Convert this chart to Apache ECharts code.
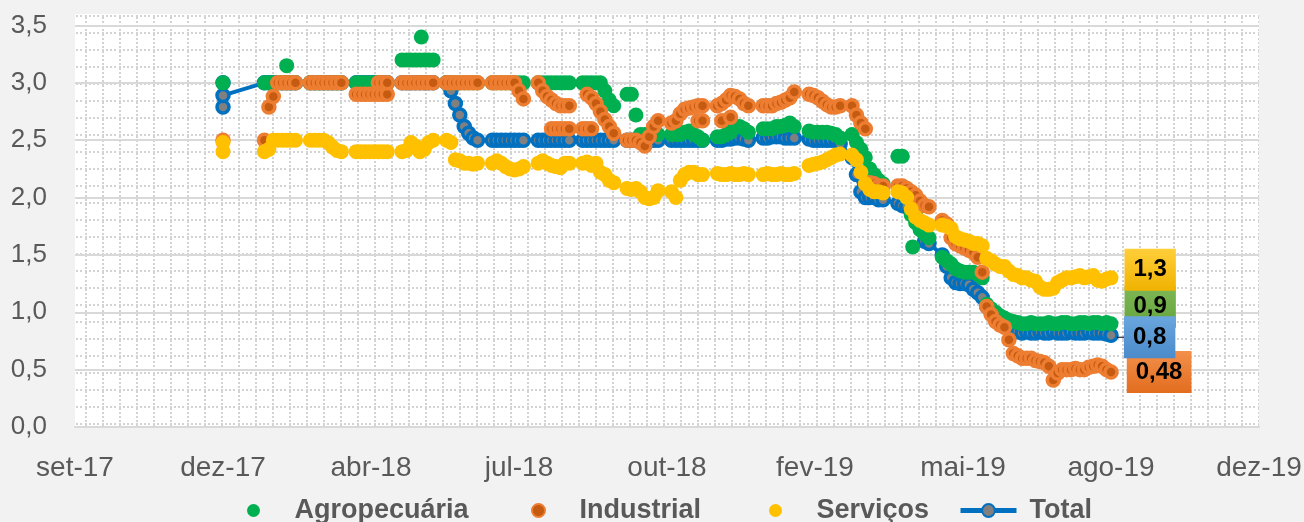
<!DOCTYPE html>
<html>
<head>
<meta charset="utf-8">
<script src="https://cdn.jsdelivr.net/npm/echarts@6/dist/echarts.min.js"></script>
<style>
  html, body { margin: 0; padding: 0; background: #f2f2f2; }
  #grafico { width: 1304px; height: 522px; }
</style>
</head>
<body>
<div id="grafico"></div>
<script>
// datas em número de série do Excel (43101 = 01/01/2018)
const dias = [
  43100,
  43128, 43131, 43134, 43137, 43140, 43143, 43146, 43149,
  43159, 43162, 43165, 43168, 43171, 43174, 43177, 43180,
  43190, 43193, 43196, 43199, 43202, 43205, 43208, 43211,
  43221, 43224, 43227, 43230, 43233, 43236, 43239, 43242,
  43251, 43254, 43257, 43260, 43263, 43266, 43269, 43272,
  43282, 43285, 43288, 43291, 43294, 43297, 43300, 43303,
  43313, 43316, 43319, 43322, 43325, 43328, 43331, 43334,
  43343, 43346, 43349, 43352, 43355, 43358, 43361, 43364,
  43373, 43376, 43379, 43382, 43385, 43388, 43391, 43394,
  43403, 43406, 43409, 43412, 43415, 43418, 43421, 43424,
  43434, 43437, 43440, 43443, 43446, 43449, 43452, 43455,
  43465, 43468, 43471, 43474, 43477, 43480, 43483, 43486,
  43496, 43499, 43502, 43505, 43508, 43511, 43514, 43517,
  43525, 43528, 43531, 43534, 43537, 43540, 43543, 43546,
  43556, 43559, 43562, 43565, 43568, 43571, 43574, 43577,
  43586, 43589, 43592, 43595, 43598, 43601, 43604, 43607,
  43610, 43613, 43616, 43619, 43622, 43625, 43628, 43631,
  43634, 43637, 43640, 43643, 43646, 43649, 43652, 43655,
  43658, 43661, 43664, 43667, 43670, 43673, 43676, 43679,
  43682, 43685, 43688, 43691, 43694, 43697, 43700
];

const agro = [
  3.0,
  3.0, 3.0, 3.0, 3.0, 3.0, 3.0, 3.0, 3.0,
  3.0, 3.0, 3.0, 3.0, 3.0, 3.0, 3.0, 3.0,
  3.0, 3.0, 3.0, 3.0, 3.0, 3.0, 3.0, 3.0,
  3.2, 3.2, 3.2, 3.2, 3.2, 3.2, 3.2, 3.2,
  3.0, 3.0, 3.0, 3.0, 3.0, 3.0, 3.0, 3.0,
  3.0, 3.0, 3.0, 3.0, 3.0, 3.0, 3.0, 3.0,
  3.0, 3.0, 3.0, 3.0, 3.0, 3.0, 3.0, 3.0,
  3.0, 3.0, 3.0, 3.0, 3.0, 2.93, 2.85, 2.8,
  2.9, 2.9, 2.72, 2.55, 2.55, 2.55, 2.55, 2.55,
  2.55, 2.55, 2.55, 2.57, 2.58, 2.55, 2.53, 2.5,
  2.53, 2.53, 2.55, 2.57, 2.62, 2.62, 2.6, 2.57,
  2.6, 2.6, 2.6, 2.62, 2.62, 2.63, 2.65, 2.62,
  2.58, 2.57, 2.57, 2.57, 2.57, 2.56, 2.55, 2.52,
  2.55, 2.48, 2.42, 2.35, 2.25, 2.2, 2.15, 2.12,
  2.36, 2.36, 2.0, 1.85, 1.78, 1.72, 1.68, 1.65,
  1.48, 1.45, 1.42, 1.38, 1.36, 1.35, 1.35, 1.35,
  1.33, 1.3, 1.07, 1.03, 1.0, 0.97, 0.95, 0.93,
  0.92, 0.91, 0.9, 0.9, 0.91, 0.9, 0.9, 0.9,
  0.91, 0.9, 0.9, 0.91, 0.91, 0.9, 0.9, 0.91,
  0.91, 0.9, 0.91, 0.91, 0.9, 0.91, 0.9
];
const agroExtra = [[43143, 3.15], [43234, 3.4], [43566, 1.57]];

const industrial = [
  2.5,
  2.5, 2.79, 2.88, 3.0, 3.0, 3.0, 3.0, 3.0,
  3.0, 3.0, 3.0, 3.0, 3.0, 3.0, 3.0, 3.0,
  2.9, 2.9, 2.9, 2.9, 2.9, 2.9, 2.9, 2.9,
  3.0, 3.0, 3.0, 3.0, 3.0, 3.0, 3.0, 3.0,
  3.0, 3.0, 3.0, 3.0, 3.0, 3.0, 3.0, 3.0,
  3.0, 3.0, 3.0, 3.0, 3.0, 3.0, 2.93, 2.86,
  3.0, 2.93, 2.88, 2.85, 2.82, 2.8, 2.8, 2.8,
  2.6, 2.9, 2.87, 2.82, 2.75, 2.68, 2.62, 2.56,
  2.5, 2.5, 2.5, 2.48, 2.45, 2.53, 2.62, 2.67,
  2.65, 2.67, 2.73, 2.77, 2.78, 2.79, 2.8, 2.8,
  2.8, 2.82, 2.85, 2.89, 2.88, 2.86, 2.82, 2.8,
  2.8, 2.8, 2.8, 2.82, 2.83, 2.85, 2.87, 2.92,
  2.9, 2.89, 2.87, 2.84, 2.81, 2.79, 2.79, 2.8,
  2.8, 2.72, 2.65, 2.6, 2.13, 2.12, 2.1, 2.1,
  2.1, 2.1, 2.08, 2.05, 2.02, 1.97, 1.93, 1.92,
  1.8, 1.77, 1.65, 1.6, 1.58, 1.56, 1.54, 1.52,
  1.48, 1.35, 1.05, 0.98, 0.92, 0.89, 0.87, 0.76,
  0.64, 0.62, 0.6, 0.6, 0.6, 0.58, 0.57, 0.56,
  0.53, 0.41, 0.47, 0.5, 0.5, 0.5, 0.51, 0.5,
  0.5, 0.52, 0.53, 0.54, 0.53, 0.5, 0.48
];
const industrialExtra = [
  [43205, 3.0], [43208, 3.0], [43211, 3.0],
  [43322, 2.6], [43325, 2.6], [43328, 2.6], [43331, 2.6], [43334, 2.6],
  [43346, 2.6], [43349, 2.6],
  [43421, 2.67], [43424, 2.67], [43437, 2.67], [43443, 2.7]
];

const servicos = [
  2.48,
  2.4, 2.42, 2.5, 2.5, 2.5, 2.5, 2.5, 2.5,
  2.5, 2.5, 2.5, 2.5, 2.48, 2.44, 2.41, 2.4,
  2.4, 2.4, 2.4, 2.4, 2.4, 2.4, 2.4, 2.4,
  2.4, 2.41, 2.48, 2.45, 2.4, 2.42, 2.48, 2.5,
  2.5, 2.48, 2.33, 2.32, 2.3, 2.3, 2.29, 2.3,
  2.3, 2.32, 2.3, 2.27, 2.25, 2.24, 2.25, 2.27,
  2.3, 2.32, 2.3, 2.28, 2.27, 2.26, 2.3, 2.3,
  2.3, 2.31, 2.28, 2.3, 2.22, 2.2, 2.15, 2.13,
  2.08, 2.07, 2.08, 2.05, 2.0, 1.99, 2.0, 2.06,
  2.05, 2.0, 2.15, 2.2, 2.22, 2.22, 2.2, 2.2,
  2.21, 2.2, 2.2, 2.21, 2.2, 2.2, 2.21, 2.2,
  2.2, 2.21, 2.2, 2.2, 2.21, 2.2, 2.2, 2.21,
  2.28, 2.29, 2.3, 2.31, 2.33, 2.35, 2.37, 2.38,
  2.37, 2.33, 2.22, 2.12, 2.07, 2.05, 2.05, 2.04,
  2.05, 2.04, 2.0, 1.9, 1.83, 1.8, 1.78, 1.76,
  1.76, 1.75, 1.73, 1.66, 1.64, 1.63, 1.62, 1.6,
  1.6, 1.58, 1.47, 1.45, 1.42, 1.4, 1.4, 1.36,
  1.33, 1.32, 1.3, 1.3, 1.28, 1.27, 1.22, 1.2,
  1.2, 1.21, 1.26, 1.28, 1.3, 1.3, 1.31, 1.32,
  1.3, 1.31, 1.32, 1.28, 1.27, 1.29, 1.3
];
const servicosExtra = [[43100, 2.4]];

const total = [
  3.0,
  3.0, 3.0, 3.0, 3.0, 3.0, 3.0, 3.0, 3.0,
  3.0, 3.0, 3.0, 3.0, 3.0, 3.0, 3.0, 3.0,
  3.0, 3.0, 3.0, 3.0, 3.0, 3.0, 3.0, 3.0,
  3.0, 3.0, 3.0, 3.0, 3.0, 3.0, 3.0, 3.0,
  3.0, 2.93, 2.82, 2.72, 2.62, 2.56, 2.52, 2.5,
  2.5, 2.5, 2.5, 2.5, 2.5, 2.5, 2.5, 2.5,
  2.5, 2.5, 2.5, 2.5, 2.5, 2.5, 2.5, 2.5,
  2.5, 2.5, 2.5, 2.5, 2.5, 2.5, 2.5, 2.5,
  2.5, 2.5, 2.5, 2.5, 2.5, 2.5, 2.5, 2.5,
  2.5, 2.5, 2.5, 2.5, 2.5, 2.5, 2.5, 2.5,
  2.5, 2.5, 2.51, 2.51, 2.52, 2.52, 2.51, 2.5,
  2.52, 2.52, 2.53, 2.53, 2.53, 2.52, 2.52, 2.52,
  2.51, 2.5, 2.5, 2.5, 2.5, 2.5, 2.5, 2.47,
  2.35, 2.2, 2.05, 2.0, 2.0, 2.0, 1.98, 1.98,
  1.95, 1.93, 1.92, 1.9, 1.88, 1.75, 1.62, 1.6,
  1.5, 1.4, 1.3, 1.26, 1.25, 1.25, 1.24, 1.2,
  1.17, 1.13, 1.05, 1.0, 0.98, 0.95, 0.92, 0.88,
  0.85, 0.83, 0.82, 0.83, 0.82, 0.82, 0.83, 0.82,
  0.82, 0.83, 0.82, 0.82, 0.82, 0.83, 0.82, 0.82,
  0.82, 0.83, 0.82, 0.82, 0.82, 0.81, 0.8
];
const totalExtra = [[43100, 2.79], [43100, 2.89]];

const meses = ['jan', 'fev', 'mar', 'abr', 'mai', 'jun', 'jul', 'ago', 'set', 'out', 'nov', 'dez'];
const fonte = "'Liberation Sans', Arial, sans-serif";

// série do Excel -> "mmm-aa"
function rotuloMes(serial) {
  const d = new Date(Date.UTC(1899, 11, 30) + serial * 86400000);
  return meses[d.getUTCMonth()] + '-' + String(d.getUTCFullYear()).slice(2);
}

// junta datas e valores em pares [data, valor]
function pares(valores, extras) {
  const pts = [];
  dias.forEach((d, i) => { if (valores[i] != null) pts.push([d, valores[i]]); });
  return pts.concat(extras).sort((a, b) => a[0] - b[0]);
}

// o ponto da última data recebe a caixa de rótulo
function pontos(valores, extras, rotulo) {
  const todos = pares(valores, extras);
  const ultimo = dias[dias.length - 1];
  let idx = -1;
  todos.forEach((p, i) => { if (p[0] === ultimo) idx = i; });
  return todos.map((p, i) => i === idx ? { value: p, label: rotulo } : p);
}

function gradiente(c1, c2) {
  return new echarts.graphic.LinearGradient(0, 0, 0, 1, [
    { offset: 0, color: c1 }, { offset: 1, color: c2 }
  ]);
}

const textoCaixa = {
  fontFamily: fonte, fontSize: 24, fontWeight: 'bold', lineHeight: 24, color: '#000'
};

function caixa(c1, c2, distancia, dy) {
  return Object.assign({
    show: true,
    position: 'right',
    distance: distancia,
    offset: [0, dy],
    formatter: p => String(p.value[1]).replace('.', ','),
    padding: [9, 9],
    backgroundColor: gradiente(c1, c2)
  }, textoCaixa);
}

// caixa com linha de chamada (série Total)
function caixaComLinha(c1, c2, dy) {
  return {
    show: true,
    position: 'right',
    distance: 0,
    offset: [0, dy],
    formatter: p => '{l|}{v|' + String(p.value[1]).replace('.', ',') + '}',
    rich: {
      l: { width: 7, height: 1, backgroundColor: '#000' },
      v: Object.assign({ padding: [9, 9], backgroundColor: gradiente(c1, c2) }, textoCaixa)
    }
  };
}

// fundo da área de plotagem: grade pontilhada (padrão do Excel)
const ladrilho = document.createElement('canvas');
ladrilho.width = 17;
ladrilho.height = 17;
{
  const c = ladrilho.getContext('2d');
  c.fillStyle = '#ffffff';
  c.fillRect(0, 0, 17, 17);
  c.fillStyle = '#d3d3d3';
  for (let k = 0; k < 15; k += 4) {
    c.fillRect(k, 15, 2, 2);
    c.fillRect(0, k, 2, 2);
  }
}

const legendaBase = {
  top: 492,
  itemWidth: 56,
  itemHeight: 13,
  textStyle: { fontFamily: fonte, fontSize: 27, fontWeight: 'bold', color: '#595959', padding: [0, 0, 0, 8] }
};

const totalPares = pares(total, totalExtra);

const chart = echarts.init(document.getElementById('grafico'), null, { renderer: 'canvas' });
chart.setOption({
  animation: false,
  backgroundColor: '#f2f2f2',
  grid: {
    left: 75, right: 45, top: 14, bottom: 95,
    show: true,
    borderWidth: 0,
    backgroundColor: { image: ladrilho, repeat: 'repeat' },
    outerBoundsMode: 'none'
  },
  legend: [
    Object.assign({ left: 242, data: ['Agropecuária'] }, legendaBase),
    Object.assign({ left: 526, data: ['Industrial'] }, legendaBase),
    Object.assign({ left: 764, data: ['Serviços'] }, legendaBase),
    Object.assign({}, legendaBase, { left: 953, itemHeight: 16, lineStyle: { width: 5 }, data: ['Total'] })
  ],
  xAxis: {
    type: 'value',
    min: 43000,
    max: 43800,
    interval: 100,
    axisLine: { show: true, lineStyle: { color: '#d9d9d9', width: 2 } },
    axisTick: { show: false },
    splitLine: { show: false },
    axisLabel: { formatter: rotuloMes, color: '#595959', fontFamily: fonte, fontSize: 28, margin: 27 }
  },
  yAxis: {
    type: 'value',
    min: 0,
    max: 3.6,
    interval: 0.5,
    axisLine: { show: false },
    axisTick: { show: false },
    splitLine: { show: true, showMinLine: false, showMaxLine: false, lineStyle: { color: '#d9d9d9', width: 2 } },
    axisLabel: {
      formatter: v => v.toFixed(1).replace('.', ','),
      showMaxLabel: false,
      color: '#595959', fontFamily: fonte, fontSize: 26, margin: 28
    }
  },
  series: [
    {
      name: 'Agropecuária',
      type: 'scatter',
      symbol: 'circle',
      symbolSize: 15,
      z: 3,
      itemStyle: { color: '#00b050', opacity: 1 },
      emphasis: { disabled: true },
      data: pontos(agro, agroExtra, caixa('#7fb857', '#64a23b', 6, -17))
    },
    {
      name: 'Industrial',
      type: 'scatter',
      symbol: 'circle',
      symbolSize: 12,
      z: 3,
      itemStyle: { color: '#c55a11', borderColor: '#ed7d31', borderWidth: 3.5, opacity: 1 },
      emphasis: { disabled: true },
      data: pontos(industrial, industrialExtra, caixa('#f3904b', '#e26d1f', 8, 0))
    },
    {
      name: 'Serviços',
      type: 'scatter',
      symbol: 'circle',
      symbolSize: 15,
      z: 3,
      itemStyle: { color: '#ffc000', opacity: 1 },
      emphasis: { disabled: true },
      data: pontos(servicos, servicosExtra, caixa('#ffcf3a', '#efb200', 6, -8))
    },
    {
      name: 'Total',
      type: 'line',
      symbol: 'circle',
      symbolSize: 12,
      z: 2,
      showSymbol: true,
      showAllSymbol: true,
      connectNulls: true,
      lineStyle: { color: '#0070c0', width: 4 },
      itemStyle: { color: '#808080', borderColor: '#0070c0', borderWidth: 3.5 },
      emphasis: { disabled: true },
      data: totalPares
    },
    {
      // rótulo do último ponto do Total, acima das demais caixas
      name: 'Total rótulo',
      type: 'scatter',
      symbol: 'circle',
      symbolSize: 12,
      z: 4,
      silent: true,
      itemStyle: { color: 'rgba(0,0,0,0)', opacity: 1 },
      data: [{ value: totalPares[totalPares.length - 1], label: caixaComLinha('#6aa6de', '#4b8bcb', 2) }]
    }
  ]
});
</script>
</body>
</html>
